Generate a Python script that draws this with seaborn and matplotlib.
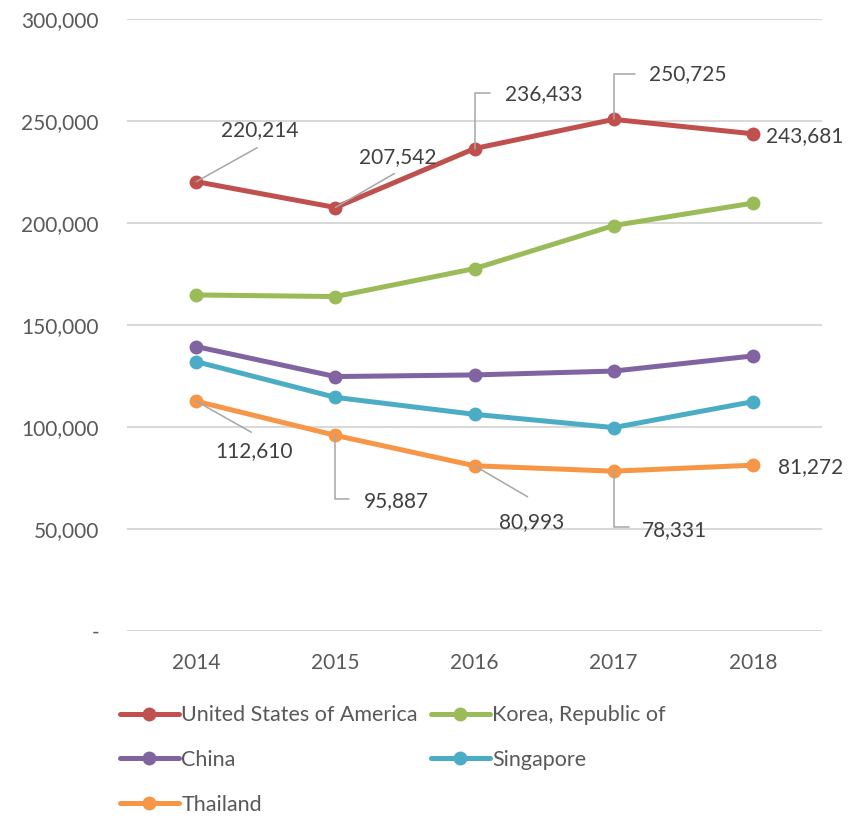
import pandas as pd
import numpy as np
import matplotlib
matplotlib.use("Agg")
import matplotlib.pyplot as plt
import seaborn as sns

# %%
# values
years = ["2014", "2015", "2016", "2017", "2018"]
countries = ["United States of America", "Korea, Republic of", "China", "Singapore", "Thailand"]
usa = [220214, 207542, 236433, 250725, 243681]
korea = [164700, 163900, 177600, 198700, 209700]
china = [139400, 124700, 125500, 127400, 134800]
singapore = [132000, 114500, 106200, 99700, 112400]
thailand = [112610, 95887, 80993, 78331, 81272]
colors = ["#C0504D", "#9BBB59", "#8064A2", "#4BACC6", "#F79646"]

series = dict(zip(countries, [usa, korea, china, singapore, thailand]))
df = pd.DataFrame([(c, y, v) for c in countries for y, v in zip(years, series[c])],
                  columns=["country", "year", "value"])

# %%
sns.set_style("white")
plt.rcParams["font.family"] = ["Lato", "DejaVu Sans"]

fig = plt.figure(figsize=(8.62, 8.19), dpi=100)
ax = fig.add_axes([0.147, 0.2295, 0.807, 0.7475])

sns.lineplot(data=df, x="year", y="value", hue="country", hue_order=countries,
             palette=colors, marker="o", markersize=10, markeredgewidth=0,
             linewidth=3.6, sort=False, ax=ax, legend=False)

ax.set_ylim(0, 300000)
ax.set_xlim(-0.5, 4.5)
ax.set_yticks(np.arange(0, 300001, 50000))
ax.set_yticklabels(["-" if v == 0 else f"{v:,}" for v in range(0, 300001, 50000)])
ax.yaxis.grid(True, color="#D9D9D9", linewidth=1.5)
ax.set_axisbelow(True)
for s in ax.spines.values():
    s.set_visible(False)
ax.tick_params(axis="y", length=0, pad=20, labelsize=15, labelcolor="#595959")
ax.tick_params(axis="x", length=0, pad=16, labelsize=15, labelcolor="#595959")
ax.set_xlabel("")
ax.set_ylabel("")

# %%
# data labels with leader lines (pixel offsets: label centre, line end, elbow?)
lead = "#A6A6A6"
txt = "#404040"
usa_lbl = [((63, 52), (61, 34), False), ((62, 50), (59, 34), False),
           ((69, 54), (15, 56), True), ((74, 45), (21, 45), True),
           ((52, -2), None, False)]
tha_lbl = [((58, -50), (55, -31), False), ((61, -66), (14, -64), True),
           ((57, -56), (53, -31), False), ((61, -59), (15, -56), True),
           ((58, -2), None, False)]

for vals, lbls in [(usa, usa_lbl), (thailand, tha_lbl)]:
    for i, (v, (t_off, l_off, elbow)) in enumerate(zip(vals, lbls)):
        if l_off is not None:
            style = "angle,angleA=0,angleB=90,rad=0" if elbow else "arc3"
            ax.annotate("", xy=(i, v), xytext=l_off, textcoords="offset pixels",
                        arrowprops=dict(arrowstyle="-", color=lead, lw=1.1,
                                        shrinkA=0, shrinkB=0, connectionstyle=style))
        ax.annotate(f"{v:,}", xy=(i, v), xytext=t_off, textcoords="offset pixels",
                    ha="center", va="center", fontsize=15, color=txt)

# %%
# legend laid out row by row like the original
handles = [plt.Line2D([], [], color=c, lw=3.6, marker="o", markersize=10,
                      markeredgewidth=0) for c in colors]
order = [0, 2, 4, 1, 3]
fig.legend([handles[i] for i in order], [countries[i] for i in order],
           ncol=2, loc="upper left", bbox_to_anchor=(0.139, 0.139),
           frameon=False, fontsize=15.5, labelcolor="#595959",
           handlelength=2.75, handletextpad=0.1, columnspacing=0.6,
           labelspacing=1.15, borderaxespad=0, borderpad=0)

fig.savefig("out.png", dpi=100)
